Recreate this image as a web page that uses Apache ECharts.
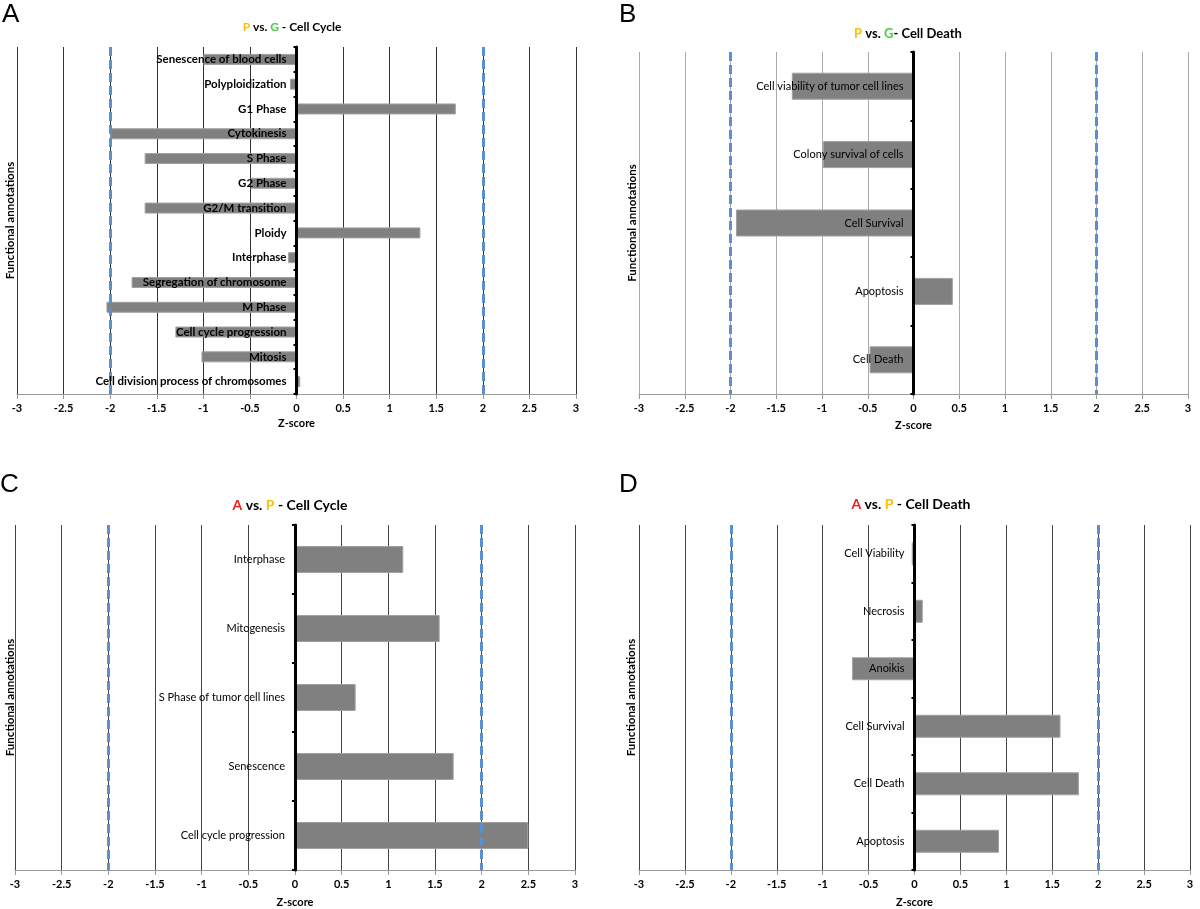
<!DOCTYPE html>
<html>
<head>
<meta charset="utf-8">
<script src="https://cdn.jsdelivr.net/npm/echarts@6/dist/echarts.min.js"></script>
<style>
html,body{margin:0;padding:0;background:#fff;}
#chart{width:1200px;height:909px;}
</style>
</head>
<body>
<div id="chart"></div>
<script>
// ---- Data ----
const categoriesA = ['Senescence of blood cells','Polyploidization','G1 Phase','Cytokinesis','S Phase','G2 Phase','G2/M transition','Ploidy','Interphase','Segregation of chromosome','M Phase','Cell cycle progression','Mitosis','Cell division process of chromosomes'];
const valuesA = [-1.0, -0.07, 1.71, -2.0, -1.63, -0.49, -1.63, 1.33, -0.09, -1.77, -2.04, -1.3, -1.02, 0.04];

const categoriesB = ['Cell viability of tumor cell lines','Colony survival of cells','Cell Survival','Apoptosis','Cell Death'];
const valuesB = [-1.33, -0.99, -1.94, 0.43, -0.48];

const categoriesC = ['Interphase','Mitogenesis','S Phase of tumor cell lines','Senescence','Cell cycle progression'];
const valuesC = [1.16, 1.55, 0.65, 1.70, 2.50];

const categoriesD = ['Cell Viability','Necrosis','Anoikis','Cell Survival','Cell Death','Apoptosis'];
const valuesD = [-0.03, 0.09, -0.68, 1.59, 1.79, 0.92];

const axisMin = -3, axisMax = 3, axisStep = 0.5;
const thresholds = [-2, 2];

const titlesText = [
  '{p|P} vs. {g|G} - Cell Cycle',
  '{p|P} vs. {g|G}- Cell Death',
  '{a|A} vs. {p|P} - Cell Cycle',
  '{a|A} vs. {p|P} - Cell Death'
];
const panelLetters = ['A','B','C','D'];
const xName = 'Z-score';
const yName = 'Functional annotations';

// ---- Layout ----
const panels = [
  {cats: categoriesA, vals: valuesA, grid:{left:17, top:47, width:559, height:347}, barWidth:11, bold:true, labelSize:11.5, gridColor:'#333', nameGap:24,
   title:{x:292, y:27, size:12}, letter:{x:2, y:15}, yname:{x:10}},
  {cats: categoriesB, vals: valuesB, grid:{left:639, top:52, width:549, height:342}, barWidth:27, bold:false, labelSize:11, gridColor:'#aaa', nameGap:26,
   title:{x:908, y:34, size:13}, letter:{x:619, y:15}, yname:{x:632}},
  {cats: categoriesC, vals: valuesC, grid:{left:15, top:525, width:560, height:345}, barWidth:27, bold:false, labelSize:11, gridColor:'#444', nameGap:27,
   title:{x:290, y:505, size:14}, letter:{x:0, y:485}, yname:{x:10}},
  {cats: categoriesD, vals: valuesD, grid:{left:639, top:525, width:551, height:345}, barWidth:23, bold:false, labelSize:11, gridColor:'#444', nameGap:27,
   title:{x:911, y:504, size:14}, letter:{x:619, y:485}, yname:{x:631}}
];

const FONT = 'Lato';
const grids = [], xAxes = [], yAxes = [], series = [], graphics = [];

panels.forEach((p, i) => {
  grids.push(Object.assign({containLabel:false, outerBoundsMode:'none'}, p.grid));
  xAxes.push({
    type:'value', gridIndex:i, min:axisMin, max:axisMax, interval:axisStep,
    axisLine:{show:true, onZero:false, lineStyle:{color:'#999', width:1}},
    axisTick:{show:true, length:5, lineStyle:{color:'#999'}},
    axisLabel:{color:'#000', fontFamily:FONT, fontWeight:'bold', fontSize:11, margin:9},
    splitLine:{show:true, lineStyle:{color:p.gridColor, width:1}},
    name:xName, nameLocation:'middle', nameGap:p.nameGap,
    nameTextStyle:{color:'#000', fontFamily:FONT, fontWeight:'bold', fontSize:11}
  });
  // zero of the symmetric x range sits at the middle of the grid
  const zeroOffset = -p.grid.width * (0 - axisMin) / (axisMax - axisMin);
  yAxes.push({
    type:'category', gridIndex:i, data:p.cats, inverse:true, z:5,
    position:'left', offset:zeroOffset,
    axisLine:{show:true, onZero:false, lineStyle:{color:'#000', width:3}},
    axisTick:{show:true, length:3, lineStyle:{color:'#000', width:2}},
    axisLabel:{color:'#000', fontFamily:FONT, fontWeight:p.bold?'bold':'normal', fontSize:p.labelSize, margin:10},
    splitLine:{show:false}
  });
  series.push({
    type:'bar', xAxisIndex:i, yAxisIndex:i, data:p.vals, barWidth:p.barWidth,
    itemStyle:{color:'#808080', borderColor:'#a0a0a0', borderWidth:1},
    silent:true, animation:false,
    markLine:{
      silent:true, symbol:'none', animation:false, z:4,
      label:{show:false},
      lineStyle:{color:'#5B8FD3', width:3, type:[9,4]},
      data: thresholds.map(t => ({xAxis:t}))
    }
  });
  const cy = p.grid.top + p.grid.height/2;
  graphics.push({
    type:'text', x:p.letter.x, y:p.letter.y,
    style:{text:panelLetters[i], font:'26px "Liberation Sans"', fill:'#000', align:'left', verticalAlign:'middle'}
  });
  const tf = 'bold ' + p.title.size + 'px ' + FONT;
  graphics.push({
    type:'text', x:p.title.x, y:p.title.y,
    style:{text:titlesText[i], font:tf, fill:'#000', align:'center', verticalAlign:'middle',
      rich:{
        p:{fill:'#FFC000', font:tf},
        g:{fill:'#3FD23F', font:tf},
        a:{fill:'#EE1C1C', font:tf}
      }}
  });
  graphics.push({
    type:'text', x:p.yname.x, y:cy, rotation:Math.PI/2,
    style:{text:yName, font:'bold 11.5px ' + FONT, fill:'#000', align:'center', verticalAlign:'middle'}
  });
});

const chart = echarts.init(document.getElementById('chart'), null, {renderer:'canvas'});
chart.setOption({
  animation:false,
  backgroundColor:'#fff',
  grid:grids, xAxis:xAxes, yAxis:yAxes, series:series, graphic:graphics
});
</script>
</body>
</html>
